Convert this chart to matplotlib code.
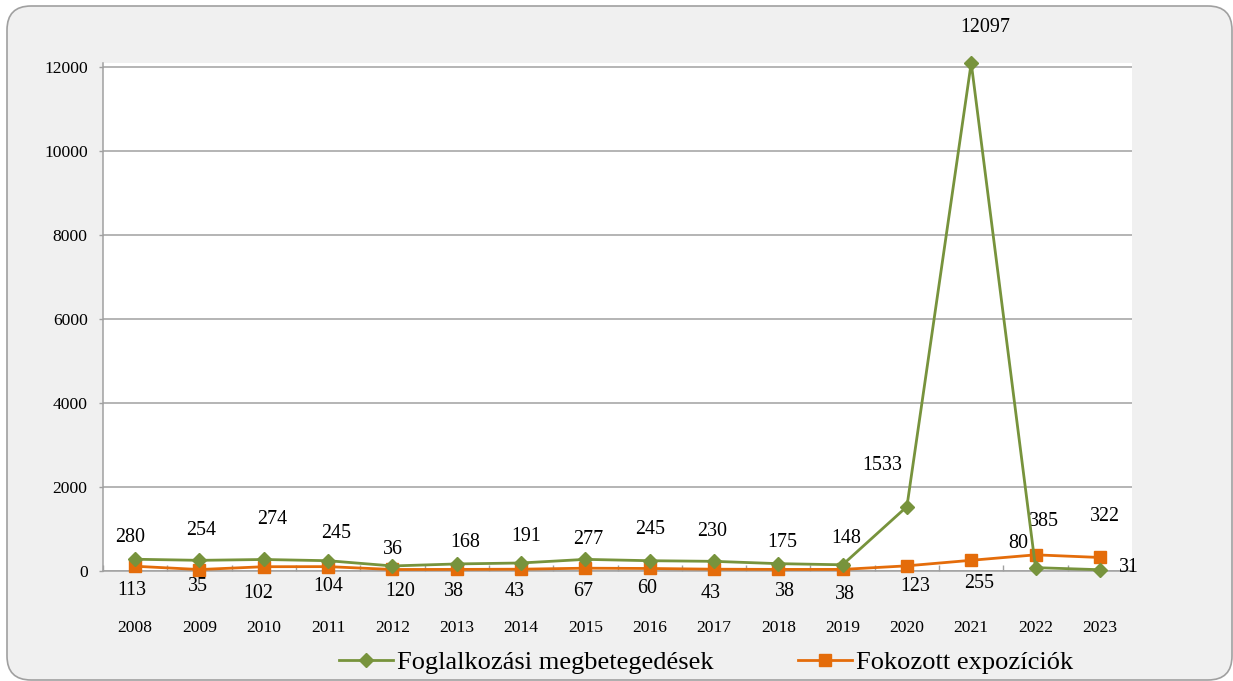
import matplotlib
matplotlib.use("Agg")
import matplotlib.pyplot as plt
import matplotlib.transforms as mtransforms
from matplotlib.patches import FancyBboxPatch
import numpy as np

plt.rcParams['font.family'] = ['Liberation Serif', 'DejaVu Serif']

evek = ['2008', '2009', '2010', '2011', '2012', '2013', '2014', '2015',
        '2016', '2017', '2018', '2019', '2020', '2021', '2022', '2023']
megbeteg = [280, 254, 274, 245, 120, 168, 191, 277, 245, 230, 175, 148, 1533, 12097, 80, 31]
expozicio = [113, 35, 102, 104, 36, 38, 43, 67, 60, 43, 38, 38, 123, 255, 385, 322]

# label offsets in pixels (dx, dy), as placed in the original
off_zold = [(-5, 22), (2, 30), (8, 40), (8, 27), (8, -26), (8, 21), (5, 26), (3, 20),
            (0, 31), (-2, 30), (4, 21), (4, 26), (-25, 41), (14, 35), (-17, 24), (29, 2)]
off_narancs = [(-3, -24), (-2, -17), (-6, -27), (0, -20), (1, 20), (-3, -22), (-6, -22), (-2, -23),
               (-3, -20), (-3, -24), (7, -22), (2, -25), (8, -21), (8, -23), (8, 33), (5, 41)]

zold = '#77933C'
narancs = '#E46C0A'
szurke = '#A0A0A0'

fig = plt.figure(figsize=(12.33, 6.81), dpi=100, facecolor='white')
hatter = FancyBboxPatch((7, 1), 1225, 674, boxstyle='round,pad=0,rounding_size=24',
                        transform=mtransforms.IdentityTransform(),
                        facecolor='#F0F0F0', edgecolor=szurke, linewidth=1.2, zorder=-5)
fig.patches.append(hatter)

ax = fig.add_axes([103/1233, 1-571/681, 1029/1233, 508/681])
ax.set_facecolor('white')
x = np.arange(len(evek))

ax.plot(x, megbeteg, color=zold, lw=2.0, marker='D', ms=7, clip_on=False, zorder=4,
        label='Foglalkozási megbetegedések')
ax.plot(x, expozicio, color=narancs, lw=2.0, marker='s', ms=8, clip_on=False, zorder=3,
        label='Fokozott expozíciók')

for i in range(len(evek)):
    ax.annotate(str(megbeteg[i]), (x[i], megbeteg[i]), xytext=off_zold[i],
                textcoords='offset pixels', ha='center', va='center', fontsize=14.4)
    ax.annotate(str(expozicio[i]), (x[i], expozicio[i]), xytext=off_narancs[i],
                textcoords='offset pixels', ha='center', va='center', fontsize=14.4)

ax.set_xlim(-0.5, len(evek) - 0.5)
ax.set_ylim(0, 12095)
ax.set_yticks(range(0, 12001, 2000))
ax.tick_params(axis='y', length=3, width=1, color=szurke, pad=8, labelsize=12.6)
ax.set_xticks(x)
ax.set_xticklabels(evek)
ax.set_xticks(np.arange(-0.5, len(evek), 1), minor=True)
ax.tick_params(axis='x', which='major', length=0, pad=35, labelsize=12.6)
ax.tick_params(axis='x', which='minor', direction='in', length=4, width=1, color=szurke)
ax.yaxis.grid(True, color=szurke, lw=1.1)
ax.set_axisbelow(True)
for s in ['top', 'right']:
    ax.spines[s].set_visible(False)
for s in ['left', 'bottom']:
    ax.spines[s].set_color(szurke)
    ax.spines[s].set_linewidth(1.1)

fig.legend(loc='center', bbox_to_anchor=(706/1233, 1-662/681), ncol=2, frameon=False,
           fontsize=19, handlelength=2.05, handletextpad=0.15, columnspacing=3.2)

fig.savefig('out.png', dpi=100, facecolor=fig.get_facecolor())
